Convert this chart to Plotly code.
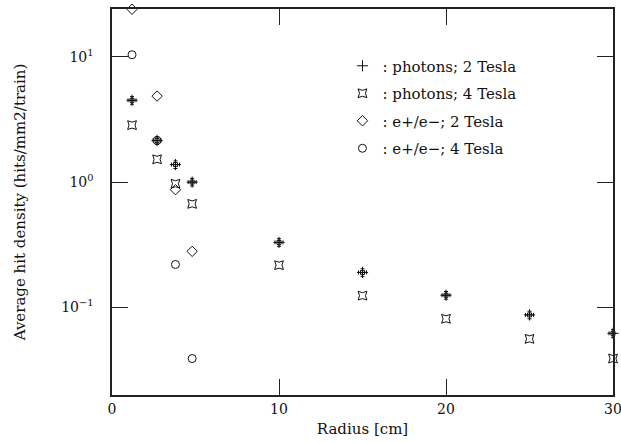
import plotly.graph_objects as go

radius_inner = [1.2, 2.7, 3.8, 4.8]
radius_all = [1.2, 2.7, 3.8, 4.8, 10, 15, 20, 25, 30]

photons_2T = [4.5, 2.15, 1.38, 1.0, 0.33, 0.19, 0.125, 0.087, 0.062]
photons_4T = [2.85, 1.52, 0.97, 0.67, 0.217, 0.124, 0.081, 0.056, 0.039]
ee_2T = [24.0, 4.86, 0.87, 0.28]
ee_4T = [10.4, 2.15, 0.22, 0.039]

names = [": photons; 2 Tesla", ": photons; 4 Tesla", ": e+/e\u2212; 2 Tesla", ": e+/e\u2212; 4 Tesla"]

FONT = "DejaVu Serif"
BLK = "#111111"
AXC = "#222222"
XRANGE = [0, 30]
YRANGE = [-1.70, 1.382]

fig = go.Figure()

fig.add_trace(go.Scatter(
    x=radius_all, y=photons_2T, mode="markers", name=names[0], legendgroup="a",
    cliponaxis=False,
    marker=dict(symbol="cross-thin-open", size=8, color=BLK, line=dict(color=BLK, width=1)),
    error_x=dict(type="constant", value=0.24, thickness=1, width=2, color=BLK),
    error_y=dict(type="percent", value=7, thickness=1, width=2, color=BLK),
))
fig.add_trace(go.Scatter(
    x=radius_all, y=photons_2T, mode="markers", showlegend=False, legendgroup="a",
    cliponaxis=False, hoverinfo="skip",
    marker=dict(symbol="square-open", size=4, color=BLK, line=dict(color=BLK, width=1)),
))
fig.add_trace(go.Scatter(
    x=radius_all, y=photons_4T, mode="markers", name=names[1], legendgroup="b",
    cliponaxis=False,
    marker=dict(symbol="star-square-open", size=8, color=BLK, line=dict(color=BLK, width=1)),
))
fig.add_trace(go.Scatter(
    x=radius_inner, y=ee_2T, mode="markers", name=names[2], legendgroup="c",
    cliponaxis=False,
    marker=dict(symbol="diamond-open", size=8, color=BLK, line=dict(color=BLK, width=1)),
))
fig.add_trace(go.Scatter(
    x=radius_inner, y=ee_4T, mode="markers", name=names[3], legendgroup="d",
    cliponaxis=False,
    marker=dict(symbol="circle-open", size=8, color=BLK, line=dict(color=BLK, width=1)),
))

axis_common = dict(
    showline=True, linecolor=AXC, linewidth=1.5, mirror="allticks",
    ticks="inside", tickcolor=AXC, tickwidth=1, showgrid=False, zeroline=False,
    tickfont=dict(family=FONT, size=14, color=BLK), automargin=False,
    ticklabeloverflow="allow",
)

fig.update_layout(
    template="none",
    width=621, height=443,
    margin=dict(l=112, r=8, t=9, b=48),
    plot_bgcolor="white", paper_bgcolor="white",
    showlegend=True,
    xaxis=dict(
        **axis_common, range=XRANGE, tickmode="linear", tick0=0, dtick=10, ticklen=16,
        title=dict(text="Radius [cm]", font=dict(family=FONT, size=15, color=BLK), standoff=8),
    ),
    yaxis=dict(
        **axis_common, type="log", range=YRANGE, ticklen=16,
        tickvals=[0.1, 1, 10], ticktext=["10<sup>\u22121</sup>", "10<sup>0</sup>", "10<sup>1</sup>"],
        ticklabelstandoff=14,
        title=dict(text="Average hit density (hits/mm2/train)", font=dict(family=FONT, size=15, color=BLK), standoff=32),
    ),
    # overlay axes that only carry the minor tick marks
    xaxis2=dict(
        overlaying="x", anchor="y", side="bottom", range=XRANGE, tickmode="linear", tick0=0, dtick=2,
        ticks="inside", ticklen=8, tickcolor=AXC, tickwidth=1, mirror="allticks",
        showticklabels=False, showline=False, showgrid=False, zeroline=False, automargin=False,
    ),
    yaxis2=dict(
        overlaying="y", anchor="x", side="left", type="log", range=YRANGE, dtick="D1",
        ticks="inside", ticklen=6, tickcolor=AXC, tickwidth=1, mirror="allticks",
        showticklabels=False, showline=False, showgrid=False, zeroline=False, automargin=False,
    ),
    legend=dict(
        x=0.46, y=0.895, xanchor="left", yanchor="top",
        bgcolor="rgba(0,0,0,0)", borderwidth=0,
        font=dict(family=FONT, size=15, color=BLK),
        traceorder="grouped", tracegroupgap=5, itemwidth=30,
    ),
)

fig.write_html(
    "out.html",
    config={"displayModeBar": False},
    post_script="document.body.style.margin='0';document.body.style.overflow='hidden';",
)
